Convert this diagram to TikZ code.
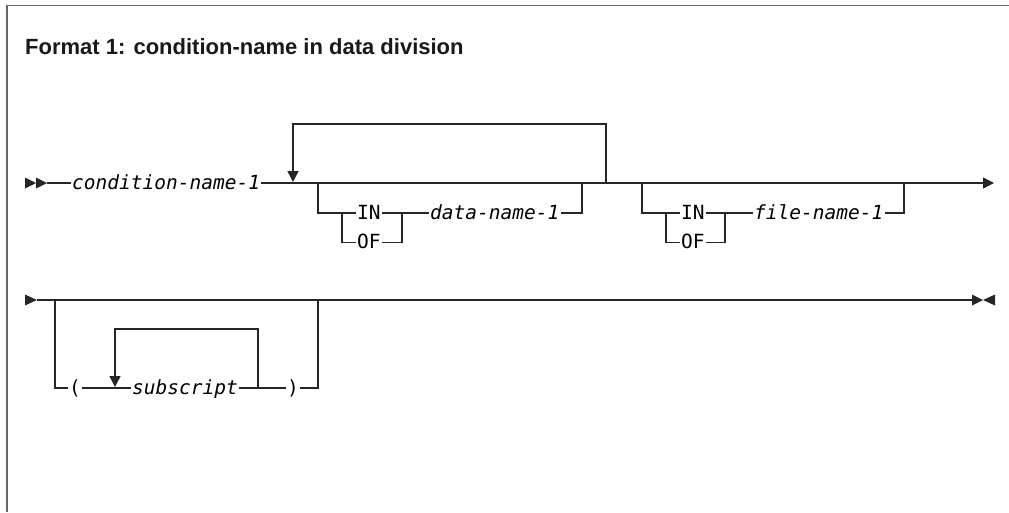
\documentclass[tikz,border=0pt]{standalone}
\usepackage{fontspec}
\setmainfont{Liberation Sans}
\newfontfamily\railfont{DejaVu Sans Mono}
\usetikzlibrary{arrows.meta, positioning}

\begin{document}
\begin{tikzpicture}[x=1pt,y=-1pt,>={Triangle[length=11pt,width=11pt]},
  rail/.style={draw=black!85,line width=1.5pt},
  kw/.style={inner xsep=1pt,inner ysep=0pt,text height=12pt,text depth=0pt,anchor=west,
    font=\railfont\fontsize{19.5}{20}\selectfont},
  var/.style={kw,font=\railfont\itshape\fontsize{19.5}{20}\selectfont},
  tip/.style={fill=black!85}]

\useasboundingbox (0,0) rectangle (1009,512);
\draw[black!60,line width=1.6pt] (7,512) -- (7,5.5) -- (1009,5.5);

\node[anchor=base west,inner sep=0pt,text=black!90,font=\bfseries\fontsize{22}{26}\selectfont]
  (title) at (25,54) {Format 1: condition-name in data division};

% define the points of the first line
  \coordinate (r1s) at (25,183);
  \coordinate (r1m) at (47,183);
  \coordinate (r1e) at (994,183);
  \coordinate (lpL) at (293,183);
  \coordinate (lpR) at (606,183);
  \coordinate (b1L) at (318,183);
  \coordinate (b1R) at (582,183);
  \coordinate (b2L) at (642,183);
  \coordinate (b2R) at (904,183);
  \coordinate (k1) at (342,213);
  \coordinate (k2) at (402,213);
  \coordinate (k3) at (666,213);
  \coordinate (k4) at (725,213);

% define the items of the first line
  \node[var] (cn)  at (71,183)  {condition-name-1};
  \node[kw]  (in1) at (356,213) {IN};
  \node[kw]  (of1) [below=17pt of in1] {OF};
  \node[var] (dn)  at (429,213) {data-name-1};
  \node[kw]  (in2) at (680,213) {IN};
  \node[kw]  (of2) [below=17pt of in2] {OF};
  \node[var] (fn)  at (753,213) {file-name-1};

% define the links of the first line
  \fill[tip] (r1s) ++(0,-5.5) -- ++(11,5.5) -- ++(-11,5.5) -- cycle;
  \fill[tip] (r1s) ++(11,-5.5) -- ++(11,5.5) -- ++(-11,5.5) -- cycle;
  \draw[rail] (r1m) -- (cn);
  \draw[rail,->] (cn) -- (r1e);
  \draw[rail,->,shorten >=1pt] (lpR) -- ++(0,-59) -| (lpL);
  \draw[rail] (b1L) |- (in1);
  \draw[rail] (k1) |- (of1);
  \draw[rail] (in1) -- (k2);
  \draw[rail] (of1) -| (k2);
  \draw[rail] (k2) -- (dn);
  \draw[rail] (dn) -| (b1R);
  \draw[rail] (b2L) |- (in2);
  \draw[rail] (k3) |- (of2);
  \draw[rail] (in2) -- (k4);
  \draw[rail] (of2) -| (k4);
  \draw[rail] (k4) -- (fn);
  \draw[rail] (fn) -| (b2R);

% define the points of the second line
  \coordinate (r2s) at (25,300);
  \coordinate (r2m) at (37,300);
  \coordinate (r2e) at (972,300);
  \coordinate (b3L) at (55,300);
  \coordinate (b3R) at (318,300);
  \coordinate (l2L) at (115,388);
  \coordinate (l2R) at (258,388);

% define the items of the second line
  \node[kw]  (lp)  at (68,388)  {(};
  \node[var] (sub) at (131,388) {subscript};
  \node[kw]  (rp)  at (286,388) {)};

% define the links of the second line
  \fill[tip] (r2s) ++(0,-5.5) -- ++(12,5.5) -- ++(-12,5.5) -- cycle;
  \draw[rail] (r2m) -- (r2e);
  \fill[tip] (r2e) ++(0,-5.5) -- ++(11,5.5) -- ++(-11,5.5) -- cycle;
  \fill[tip] (r2e) ++(23,-5.5) -- ++(-12,5.5) -- ++(12,5.5) -- cycle;
  \draw[rail] (b3L) |- (lp);
  \draw[rail] (lp) -- (sub);
  \draw[rail] (sub) -- (rp);
  \draw[rail] (rp) -| (b3R);
  \draw[rail,->,shorten >=1pt] (l2R) -- ++(0,-59) -| (l2L);

\end{tikzpicture}
\end{document}
